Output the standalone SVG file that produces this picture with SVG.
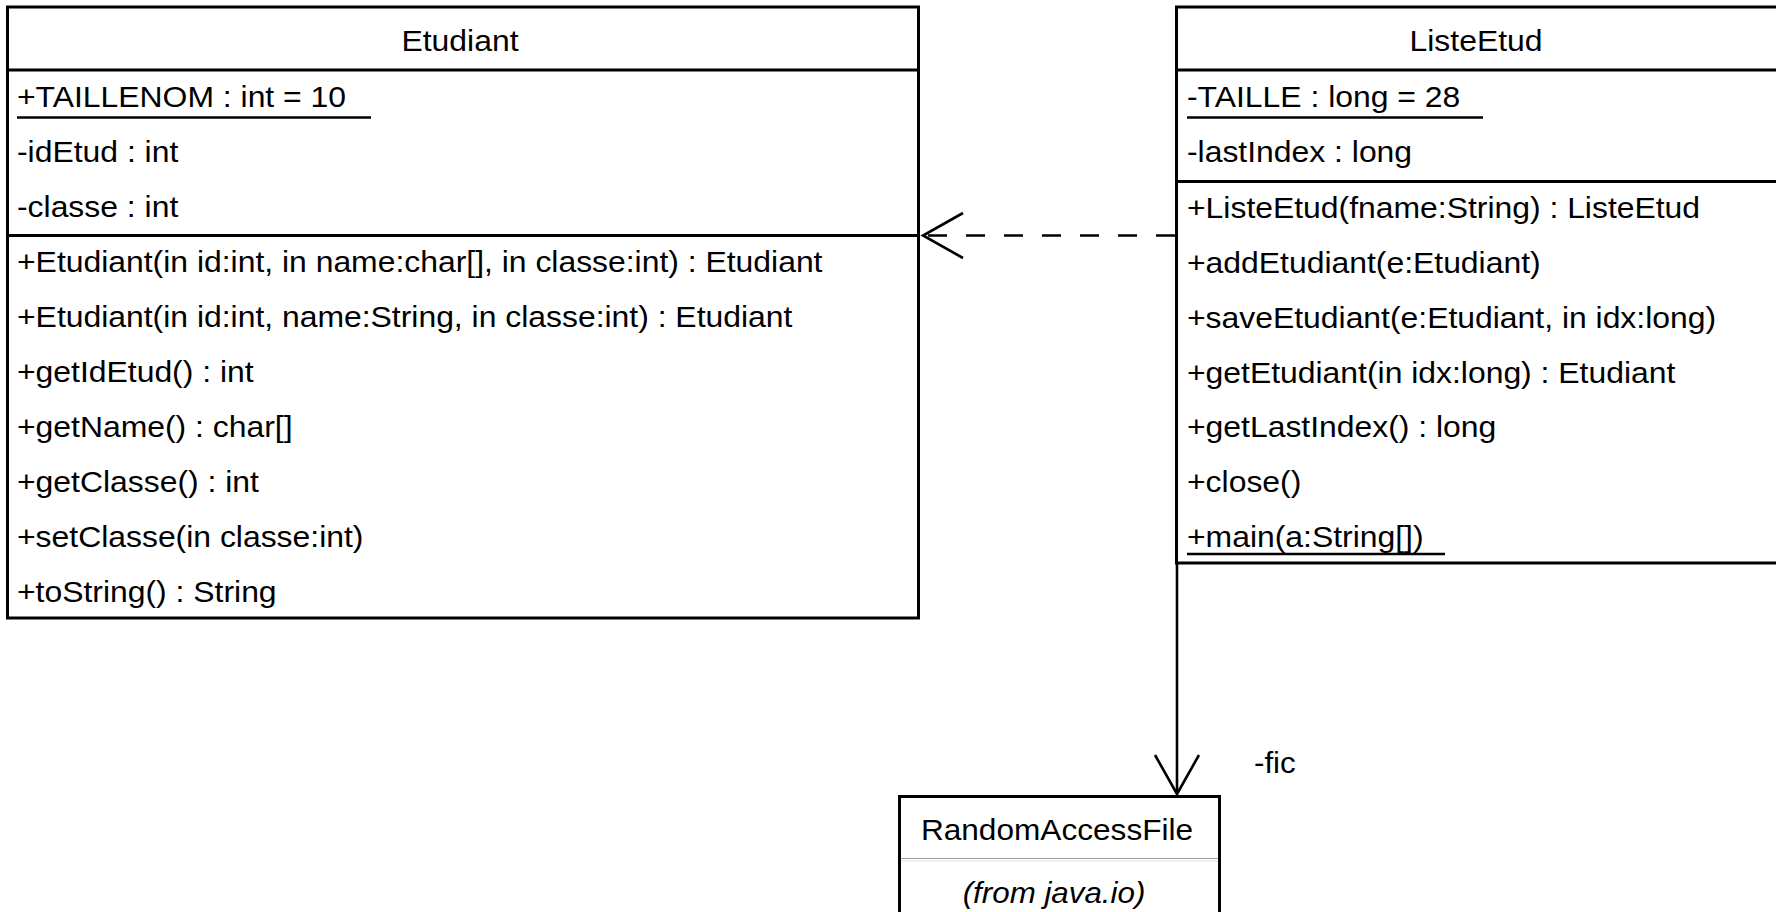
<svg xmlns="http://www.w3.org/2000/svg" width="1776" height="912" viewBox="0 0 1776 912">
<defs>
<style>
.box{fill:#fff;stroke:#000;stroke-width:3}
.sep{stroke:#000;stroke-width:3}
.ul{stroke:#000;stroke-width:2.6}
.t{font-family:"Liberation Sans",Arial,sans-serif;font-size:29px;fill:#000}
.c{text-anchor:middle}
.i{font-style:italic}
.conn{fill:none;stroke:#000;stroke-width:2.6}
.dash{stroke-dasharray:19 19}
</style>
</defs>
<rect x="0" y="0" width="1776" height="912" fill="#fff"/>

<g id="connectors">
  <line class="conn dash" x1="1175" y1="235.5" x2="926" y2="235.5"/>
  <polyline class="conn" points="963,213 923,235.5 963,258"/>
  <line class="conn" x1="1177" y1="563" x2="1177" y2="794"/>
  <polyline class="conn" points="1155,755 1177,794 1199,755"/>
  <text class="t" transform="translate(1254 773) scale(1.08 1)">-fic</text>
</g>

<g id="Etudiant">
  <rect class="box" x="7.5" y="7" width="911" height="611"/>
  <line class="sep" x1="7.5" y1="70" x2="918.5" y2="70"/>
  <line class="sep" x1="7.5" y1="235.5" x2="918.5" y2="235.5"/>
  <text class="t c" transform="translate(460 51) scale(1.1 1)">Etudiant</text>
  <text class="t" transform="translate(17 107) scale(1.1 1)">+TAILLENOM : int = 10</text>
  <line class="ul" x1="17" y1="117.5" x2="371" y2="117.5"/>
  <text class="t" transform="translate(17 162) scale(1.1 1)">-idEtud : int</text>
  <text class="t" transform="translate(17 217) scale(1.1 1)">-classe : int</text>
  <text class="t" transform="translate(17 272) scale(1.1 1)">+Etudiant(in id:int, in name:char[], in classe:int) : Etudiant</text>
  <text class="t" transform="translate(17 327) scale(1.1 1)">+Etudiant(in id:int, name:String, in classe:int) : Etudiant</text>
  <text class="t" transform="translate(17 382) scale(1.1 1)">+getIdEtud() : int</text>
  <text class="t" transform="translate(17 437) scale(1.1 1)">+getName() : char[]</text>
  <text class="t" transform="translate(17 492) scale(1.1 1)">+getClasse() : int</text>
  <text class="t" transform="translate(17 547) scale(1.1 1)">+setClasse(in classe:int)</text>
  <text class="t" transform="translate(17 602) scale(1.1 1)">+toString() : String</text>
</g>

<g id="ListeEtud">
  <rect class="box" x="1176.5" y="7" width="610" height="556"/>
  <line class="sep" x1="1176.5" y1="70" x2="1780" y2="70"/>
  <line class="sep" x1="1176.5" y1="181.5" x2="1780" y2="181.5"/>
  <text class="t c" transform="translate(1476 51) scale(1.1 1)">ListeEtud</text>
  <text class="t" transform="translate(1187 107) scale(1.1 1)">-TAILLE : long = 28</text>
  <line class="ul" x1="1187" y1="117.5" x2="1483" y2="117.5"/>
  <text class="t" transform="translate(1187 162) scale(1.1 1)">-lastIndex : long</text>
  <text class="t" transform="translate(1187 218) scale(1.1 1)">+ListeEtud(fname:String) : ListeEtud</text>
  <text class="t" transform="translate(1187 273) scale(1.1 1)">+addEtudiant(e:Etudiant)</text>
  <text class="t" transform="translate(1187 328) scale(1.1 1)">+saveEtudiant(e:Etudiant, in idx:long)</text>
  <text class="t" transform="translate(1187 383) scale(1.1 1)">+getEtudiant(in idx:long) : Etudiant</text>
  <text class="t" transform="translate(1187 437) scale(1.1 1)">+getLastIndex() : long</text>
  <text class="t" transform="translate(1187 492) scale(1.1 1)">+close()</text>
  <text class="t" transform="translate(1187 547) scale(1.1 1)">+main(a:String[])</text>
  <line class="ul" x1="1187" y1="554" x2="1445" y2="554"/>
</g>

<g id="RandomAccessFile">
  <rect class="box" x="899.5" y="796.5" width="320" height="140"/>
  <line x1="901" y1="858.5" x2="1218" y2="858.5" stroke="#9a9a9a" stroke-width="1.2"/>
  <line x1="901" y1="861" x2="1218" y2="861" stroke="#e2e2e2" stroke-width="1"/>
  <text class="t c" transform="translate(1057 840) scale(1.09 1)">RandomAccessFile</text>
  <text class="t c i" transform="translate(1054 903) scale(1.08 1)">(from java.io)</text>
</g>
</svg>
